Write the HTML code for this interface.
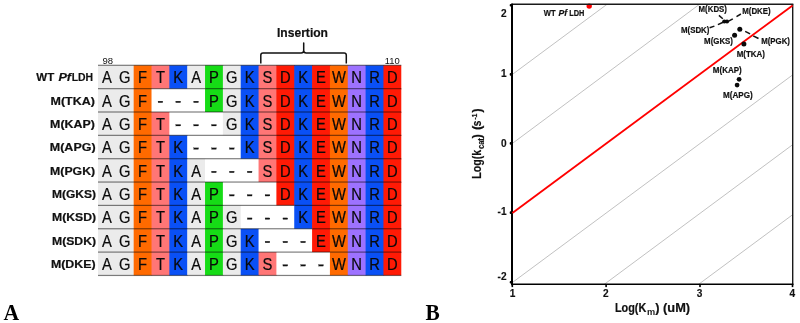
<!DOCTYPE html><html><head><meta charset="utf-8"><title>Figure</title><style>html,body{margin:0;padding:0;background:#fff}svg{display:block;will-change:transform}text{font-family:"Liberation Sans",sans-serif}.b{font-weight:bold}.s{font-family:"Liberation Serif",serif;font-weight:bold}</style></head><body>
<svg width="800" height="323" viewBox="0 0 800 323">
<rect width="800" height="323" fill="#fff"/>
<g>
<rect x="98.00" y="65.30" width="36.38" height="24.05" fill="#ebebeb"/>
<rect x="133.68" y="65.30" width="18.54" height="24.05" fill="#ff6a00"/>
<rect x="151.52" y="65.30" width="18.54" height="24.05" fill="#ff7676"/>
<rect x="169.36" y="65.30" width="18.54" height="24.05" fill="#0a50f5"/>
<rect x="187.20" y="65.30" width="18.54" height="24.05" fill="#ebebeb"/>
<rect x="205.04" y="65.30" width="18.54" height="24.05" fill="#16dc16"/>
<rect x="222.88" y="65.30" width="18.54" height="24.05" fill="#ebebeb"/>
<rect x="240.72" y="65.30" width="18.54" height="24.05" fill="#0a50f5"/>
<rect x="258.56" y="65.30" width="18.54" height="24.05" fill="#ff7676"/>
<rect x="276.40" y="65.30" width="18.54" height="24.05" fill="#ff1a05"/>
<rect x="294.24" y="65.30" width="18.54" height="24.05" fill="#0a50f5"/>
<rect x="312.08" y="65.30" width="18.54" height="24.05" fill="#ff1a05"/>
<rect x="329.92" y="65.30" width="18.54" height="24.05" fill="#ff6a00"/>
<rect x="347.76" y="65.30" width="18.54" height="24.05" fill="#9d72ff"/>
<rect x="365.60" y="65.30" width="18.54" height="24.05" fill="#0a50f5"/>
<rect x="383.44" y="65.30" width="17.84" height="24.05" fill="#ff1a05"/>
<rect x="98.00" y="88.65" width="36.38" height="24.05" fill="#ebebeb"/>
<rect x="133.68" y="88.65" width="18.54" height="24.05" fill="#ff6a00"/>
<rect x="151.52" y="88.65" width="54.22" height="24.05" fill="#fff"/>
<rect x="205.04" y="88.65" width="18.54" height="24.05" fill="#16dc16"/>
<rect x="222.88" y="88.65" width="18.54" height="24.05" fill="#ebebeb"/>
<rect x="240.72" y="88.65" width="18.54" height="24.05" fill="#0a50f5"/>
<rect x="258.56" y="88.65" width="18.54" height="24.05" fill="#ff7676"/>
<rect x="276.40" y="88.65" width="18.54" height="24.05" fill="#ff1a05"/>
<rect x="294.24" y="88.65" width="18.54" height="24.05" fill="#0a50f5"/>
<rect x="312.08" y="88.65" width="18.54" height="24.05" fill="#ff1a05"/>
<rect x="329.92" y="88.65" width="18.54" height="24.05" fill="#ff6a00"/>
<rect x="347.76" y="88.65" width="18.54" height="24.05" fill="#9d72ff"/>
<rect x="365.60" y="88.65" width="18.54" height="24.05" fill="#0a50f5"/>
<rect x="383.44" y="88.65" width="17.84" height="24.05" fill="#ff1a05"/>
<rect x="98.00" y="112.00" width="36.38" height="24.05" fill="#ebebeb"/>
<rect x="133.68" y="112.00" width="18.54" height="24.05" fill="#ff6a00"/>
<rect x="151.52" y="112.00" width="18.54" height="24.05" fill="#ff7676"/>
<rect x="169.36" y="112.00" width="54.22" height="24.05" fill="#fff"/>
<rect x="222.88" y="112.00" width="18.54" height="24.05" fill="#ebebeb"/>
<rect x="240.72" y="112.00" width="18.54" height="24.05" fill="#0a50f5"/>
<rect x="258.56" y="112.00" width="18.54" height="24.05" fill="#ff7676"/>
<rect x="276.40" y="112.00" width="18.54" height="24.05" fill="#ff1a05"/>
<rect x="294.24" y="112.00" width="18.54" height="24.05" fill="#0a50f5"/>
<rect x="312.08" y="112.00" width="18.54" height="24.05" fill="#ff1a05"/>
<rect x="329.92" y="112.00" width="18.54" height="24.05" fill="#ff6a00"/>
<rect x="347.76" y="112.00" width="18.54" height="24.05" fill="#9d72ff"/>
<rect x="365.60" y="112.00" width="18.54" height="24.05" fill="#0a50f5"/>
<rect x="383.44" y="112.00" width="17.84" height="24.05" fill="#ff1a05"/>
<rect x="98.00" y="135.35" width="36.38" height="24.05" fill="#ebebeb"/>
<rect x="133.68" y="135.35" width="18.54" height="24.05" fill="#ff6a00"/>
<rect x="151.52" y="135.35" width="18.54" height="24.05" fill="#ff7676"/>
<rect x="169.36" y="135.35" width="18.54" height="24.05" fill="#0a50f5"/>
<rect x="187.20" y="135.35" width="54.22" height="24.05" fill="#fff"/>
<rect x="240.72" y="135.35" width="18.54" height="24.05" fill="#0a50f5"/>
<rect x="258.56" y="135.35" width="18.54" height="24.05" fill="#ff7676"/>
<rect x="276.40" y="135.35" width="18.54" height="24.05" fill="#ff1a05"/>
<rect x="294.24" y="135.35" width="18.54" height="24.05" fill="#0a50f5"/>
<rect x="312.08" y="135.35" width="18.54" height="24.05" fill="#ff1a05"/>
<rect x="329.92" y="135.35" width="18.54" height="24.05" fill="#ff6a00"/>
<rect x="347.76" y="135.35" width="18.54" height="24.05" fill="#9d72ff"/>
<rect x="365.60" y="135.35" width="18.54" height="24.05" fill="#0a50f5"/>
<rect x="383.44" y="135.35" width="17.84" height="24.05" fill="#ff1a05"/>
<rect x="98.00" y="158.70" width="36.38" height="24.05" fill="#ebebeb"/>
<rect x="133.68" y="158.70" width="18.54" height="24.05" fill="#ff6a00"/>
<rect x="151.52" y="158.70" width="18.54" height="24.05" fill="#ff7676"/>
<rect x="169.36" y="158.70" width="18.54" height="24.05" fill="#0a50f5"/>
<rect x="187.20" y="158.70" width="18.54" height="24.05" fill="#ebebeb"/>
<rect x="205.04" y="158.70" width="54.22" height="24.05" fill="#fff"/>
<rect x="258.56" y="158.70" width="18.54" height="24.05" fill="#ff7676"/>
<rect x="276.40" y="158.70" width="18.54" height="24.05" fill="#ff1a05"/>
<rect x="294.24" y="158.70" width="18.54" height="24.05" fill="#0a50f5"/>
<rect x="312.08" y="158.70" width="18.54" height="24.05" fill="#ff1a05"/>
<rect x="329.92" y="158.70" width="18.54" height="24.05" fill="#ff6a00"/>
<rect x="347.76" y="158.70" width="18.54" height="24.05" fill="#9d72ff"/>
<rect x="365.60" y="158.70" width="18.54" height="24.05" fill="#0a50f5"/>
<rect x="383.44" y="158.70" width="17.84" height="24.05" fill="#ff1a05"/>
<rect x="98.00" y="182.05" width="36.38" height="24.05" fill="#ebebeb"/>
<rect x="133.68" y="182.05" width="18.54" height="24.05" fill="#ff6a00"/>
<rect x="151.52" y="182.05" width="18.54" height="24.05" fill="#ff7676"/>
<rect x="169.36" y="182.05" width="18.54" height="24.05" fill="#0a50f5"/>
<rect x="187.20" y="182.05" width="18.54" height="24.05" fill="#ebebeb"/>
<rect x="205.04" y="182.05" width="18.54" height="24.05" fill="#16dc16"/>
<rect x="222.88" y="182.05" width="54.22" height="24.05" fill="#fff"/>
<rect x="276.40" y="182.05" width="18.54" height="24.05" fill="#ff1a05"/>
<rect x="294.24" y="182.05" width="18.54" height="24.05" fill="#0a50f5"/>
<rect x="312.08" y="182.05" width="18.54" height="24.05" fill="#ff1a05"/>
<rect x="329.92" y="182.05" width="18.54" height="24.05" fill="#ff6a00"/>
<rect x="347.76" y="182.05" width="18.54" height="24.05" fill="#9d72ff"/>
<rect x="365.60" y="182.05" width="18.54" height="24.05" fill="#0a50f5"/>
<rect x="383.44" y="182.05" width="17.84" height="24.05" fill="#ff1a05"/>
<rect x="98.00" y="205.40" width="36.38" height="24.05" fill="#ebebeb"/>
<rect x="133.68" y="205.40" width="18.54" height="24.05" fill="#ff6a00"/>
<rect x="151.52" y="205.40" width="18.54" height="24.05" fill="#ff7676"/>
<rect x="169.36" y="205.40" width="18.54" height="24.05" fill="#0a50f5"/>
<rect x="187.20" y="205.40" width="18.54" height="24.05" fill="#ebebeb"/>
<rect x="205.04" y="205.40" width="18.54" height="24.05" fill="#16dc16"/>
<rect x="222.88" y="205.40" width="18.54" height="24.05" fill="#ebebeb"/>
<rect x="240.72" y="205.40" width="54.22" height="24.05" fill="#fff"/>
<rect x="294.24" y="205.40" width="18.54" height="24.05" fill="#0a50f5"/>
<rect x="312.08" y="205.40" width="18.54" height="24.05" fill="#ff1a05"/>
<rect x="329.92" y="205.40" width="18.54" height="24.05" fill="#ff6a00"/>
<rect x="347.76" y="205.40" width="18.54" height="24.05" fill="#9d72ff"/>
<rect x="365.60" y="205.40" width="18.54" height="24.05" fill="#0a50f5"/>
<rect x="383.44" y="205.40" width="17.84" height="24.05" fill="#ff1a05"/>
<rect x="98.00" y="228.75" width="36.38" height="24.05" fill="#ebebeb"/>
<rect x="133.68" y="228.75" width="18.54" height="24.05" fill="#ff6a00"/>
<rect x="151.52" y="228.75" width="18.54" height="24.05" fill="#ff7676"/>
<rect x="169.36" y="228.75" width="18.54" height="24.05" fill="#0a50f5"/>
<rect x="187.20" y="228.75" width="18.54" height="24.05" fill="#ebebeb"/>
<rect x="205.04" y="228.75" width="18.54" height="24.05" fill="#16dc16"/>
<rect x="222.88" y="228.75" width="18.54" height="24.05" fill="#ebebeb"/>
<rect x="240.72" y="228.75" width="18.54" height="24.05" fill="#0a50f5"/>
<rect x="258.56" y="228.75" width="54.22" height="24.05" fill="#fff"/>
<rect x="312.08" y="228.75" width="18.54" height="24.05" fill="#ff1a05"/>
<rect x="329.92" y="228.75" width="18.54" height="24.05" fill="#ff6a00"/>
<rect x="347.76" y="228.75" width="18.54" height="24.05" fill="#9d72ff"/>
<rect x="365.60" y="228.75" width="18.54" height="24.05" fill="#0a50f5"/>
<rect x="383.44" y="228.75" width="17.84" height="24.05" fill="#ff1a05"/>
<rect x="98.00" y="252.10" width="36.38" height="23.35" fill="#ebebeb"/>
<rect x="133.68" y="252.10" width="18.54" height="23.35" fill="#ff6a00"/>
<rect x="151.52" y="252.10" width="18.54" height="23.35" fill="#ff7676"/>
<rect x="169.36" y="252.10" width="18.54" height="23.35" fill="#0a50f5"/>
<rect x="187.20" y="252.10" width="18.54" height="23.35" fill="#ebebeb"/>
<rect x="205.04" y="252.10" width="18.54" height="23.35" fill="#16dc16"/>
<rect x="222.88" y="252.10" width="18.54" height="23.35" fill="#ebebeb"/>
<rect x="240.72" y="252.10" width="18.54" height="23.35" fill="#0a50f5"/>
<rect x="258.56" y="252.10" width="18.54" height="23.35" fill="#ff7676"/>
<rect x="276.40" y="252.10" width="54.22" height="23.35" fill="#fff"/>
<rect x="329.92" y="252.10" width="18.54" height="23.35" fill="#ff6a00"/>
<rect x="347.76" y="252.10" width="18.54" height="23.35" fill="#9d72ff"/>
<rect x="365.60" y="252.10" width="18.54" height="23.35" fill="#0a50f5"/>
<rect x="383.44" y="252.10" width="17.84" height="23.35" fill="#ff1a05"/>
</g>
<rect x="98.00" y="64.70" width="303.28" height="1.2" fill="#000" fill-opacity="0.5"/>
<rect x="98.00" y="88.05" width="303.28" height="1.2" fill="#000" fill-opacity="0.5"/>
<rect x="98.00" y="111.40" width="303.28" height="1.2" fill="#000" fill-opacity="0.5"/>
<rect x="98.00" y="134.75" width="303.28" height="1.2" fill="#000" fill-opacity="0.5"/>
<rect x="98.00" y="158.10" width="303.28" height="1.2" fill="#000" fill-opacity="0.5"/>
<rect x="98.00" y="181.45" width="303.28" height="1.2" fill="#000" fill-opacity="0.5"/>
<rect x="98.00" y="204.80" width="303.28" height="1.2" fill="#000" fill-opacity="0.5"/>
<rect x="98.00" y="228.15" width="303.28" height="1.2" fill="#000" fill-opacity="0.5"/>
<rect x="98.00" y="251.50" width="303.28" height="1.2" fill="#000" fill-opacity="0.5"/>
<rect x="98.00" y="274.85" width="303.28" height="1.2" fill="#000" fill-opacity="0.5"/>
<g font-size="15.7" text-anchor="middle" fill="#0a0a0a" stroke="#0a0a0a" stroke-width="0.2">
<text transform="translate(106.92 83.30) scale(0.94 1)">A</text>
<text transform="translate(124.76 83.30) scale(0.94 1)">G</text>
<text transform="translate(142.60 83.30) scale(0.94 1)">F</text>
<text transform="translate(160.44 83.30) scale(0.94 1)">T</text>
<text transform="translate(178.28 83.30) scale(0.94 1)">K</text>
<text transform="translate(196.12 83.30) scale(0.94 1)">A</text>
<text transform="translate(213.96 83.30) scale(0.94 1)">P</text>
<text transform="translate(231.80 83.30) scale(0.94 1)">G</text>
<text transform="translate(249.64 83.30) scale(0.94 1)">K</text>
<text transform="translate(267.48 83.30) scale(0.94 1)">S</text>
<text transform="translate(285.32 83.30) scale(0.94 1)">D</text>
<text transform="translate(303.16 83.30) scale(0.94 1)">K</text>
<text transform="translate(321.00 83.30) scale(0.94 1)">E</text>
<text transform="translate(338.84 83.30) scale(0.94 1)">W</text>
<text transform="translate(356.68 83.30) scale(0.94 1)">N</text>
<text transform="translate(374.52 83.30) scale(0.94 1)">R</text>
<text transform="translate(392.36 83.30) scale(0.94 1)">D</text>
<text transform="translate(106.92 106.65) scale(0.94 1)">A</text>
<text transform="translate(124.76 106.65) scale(0.94 1)">G</text>
<text transform="translate(142.60 106.65) scale(0.94 1)">F</text>
<rect x="158.04" y="101.15" width="4.8" height="1.5" fill="#111"/>
<rect x="175.88" y="101.15" width="4.8" height="1.5" fill="#111"/>
<rect x="193.72" y="101.15" width="4.8" height="1.5" fill="#111"/>
<text transform="translate(213.96 106.65) scale(0.94 1)">P</text>
<text transform="translate(231.80 106.65) scale(0.94 1)">G</text>
<text transform="translate(249.64 106.65) scale(0.94 1)">K</text>
<text transform="translate(267.48 106.65) scale(0.94 1)">S</text>
<text transform="translate(285.32 106.65) scale(0.94 1)">D</text>
<text transform="translate(303.16 106.65) scale(0.94 1)">K</text>
<text transform="translate(321.00 106.65) scale(0.94 1)">E</text>
<text transform="translate(338.84 106.65) scale(0.94 1)">W</text>
<text transform="translate(356.68 106.65) scale(0.94 1)">N</text>
<text transform="translate(374.52 106.65) scale(0.94 1)">R</text>
<text transform="translate(392.36 106.65) scale(0.94 1)">D</text>
<text transform="translate(106.92 130.00) scale(0.94 1)">A</text>
<text transform="translate(124.76 130.00) scale(0.94 1)">G</text>
<text transform="translate(142.60 130.00) scale(0.94 1)">F</text>
<text transform="translate(160.44 130.00) scale(0.94 1)">T</text>
<rect x="175.88" y="124.50" width="4.8" height="1.5" fill="#111"/>
<rect x="193.72" y="124.50" width="4.8" height="1.5" fill="#111"/>
<rect x="211.56" y="124.50" width="4.8" height="1.5" fill="#111"/>
<text transform="translate(231.80 130.00) scale(0.94 1)">G</text>
<text transform="translate(249.64 130.00) scale(0.94 1)">K</text>
<text transform="translate(267.48 130.00) scale(0.94 1)">S</text>
<text transform="translate(285.32 130.00) scale(0.94 1)">D</text>
<text transform="translate(303.16 130.00) scale(0.94 1)">K</text>
<text transform="translate(321.00 130.00) scale(0.94 1)">E</text>
<text transform="translate(338.84 130.00) scale(0.94 1)">W</text>
<text transform="translate(356.68 130.00) scale(0.94 1)">N</text>
<text transform="translate(374.52 130.00) scale(0.94 1)">R</text>
<text transform="translate(392.36 130.00) scale(0.94 1)">D</text>
<text transform="translate(106.92 153.35) scale(0.94 1)">A</text>
<text transform="translate(124.76 153.35) scale(0.94 1)">G</text>
<text transform="translate(142.60 153.35) scale(0.94 1)">F</text>
<text transform="translate(160.44 153.35) scale(0.94 1)">T</text>
<text transform="translate(178.28 153.35) scale(0.94 1)">K</text>
<rect x="193.72" y="147.85" width="4.8" height="1.5" fill="#111"/>
<rect x="211.56" y="147.85" width="4.8" height="1.5" fill="#111"/>
<rect x="229.40" y="147.85" width="4.8" height="1.5" fill="#111"/>
<text transform="translate(249.64 153.35) scale(0.94 1)">K</text>
<text transform="translate(267.48 153.35) scale(0.94 1)">S</text>
<text transform="translate(285.32 153.35) scale(0.94 1)">D</text>
<text transform="translate(303.16 153.35) scale(0.94 1)">K</text>
<text transform="translate(321.00 153.35) scale(0.94 1)">E</text>
<text transform="translate(338.84 153.35) scale(0.94 1)">W</text>
<text transform="translate(356.68 153.35) scale(0.94 1)">N</text>
<text transform="translate(374.52 153.35) scale(0.94 1)">R</text>
<text transform="translate(392.36 153.35) scale(0.94 1)">D</text>
<text transform="translate(106.92 176.70) scale(0.94 1)">A</text>
<text transform="translate(124.76 176.70) scale(0.94 1)">G</text>
<text transform="translate(142.60 176.70) scale(0.94 1)">F</text>
<text transform="translate(160.44 176.70) scale(0.94 1)">T</text>
<text transform="translate(178.28 176.70) scale(0.94 1)">K</text>
<text transform="translate(196.12 176.70) scale(0.94 1)">A</text>
<rect x="211.56" y="171.20" width="4.8" height="1.5" fill="#111"/>
<rect x="229.40" y="171.20" width="4.8" height="1.5" fill="#111"/>
<rect x="247.24" y="171.20" width="4.8" height="1.5" fill="#111"/>
<text transform="translate(267.48 176.70) scale(0.94 1)">S</text>
<text transform="translate(285.32 176.70) scale(0.94 1)">D</text>
<text transform="translate(303.16 176.70) scale(0.94 1)">K</text>
<text transform="translate(321.00 176.70) scale(0.94 1)">E</text>
<text transform="translate(338.84 176.70) scale(0.94 1)">W</text>
<text transform="translate(356.68 176.70) scale(0.94 1)">N</text>
<text transform="translate(374.52 176.70) scale(0.94 1)">R</text>
<text transform="translate(392.36 176.70) scale(0.94 1)">D</text>
<text transform="translate(106.92 200.05) scale(0.94 1)">A</text>
<text transform="translate(124.76 200.05) scale(0.94 1)">G</text>
<text transform="translate(142.60 200.05) scale(0.94 1)">F</text>
<text transform="translate(160.44 200.05) scale(0.94 1)">T</text>
<text transform="translate(178.28 200.05) scale(0.94 1)">K</text>
<text transform="translate(196.12 200.05) scale(0.94 1)">A</text>
<text transform="translate(213.96 200.05) scale(0.94 1)">P</text>
<rect x="229.40" y="194.55" width="4.8" height="1.5" fill="#111"/>
<rect x="247.24" y="194.55" width="4.8" height="1.5" fill="#111"/>
<rect x="265.08" y="194.55" width="4.8" height="1.5" fill="#111"/>
<text transform="translate(285.32 200.05) scale(0.94 1)">D</text>
<text transform="translate(303.16 200.05) scale(0.94 1)">K</text>
<text transform="translate(321.00 200.05) scale(0.94 1)">E</text>
<text transform="translate(338.84 200.05) scale(0.94 1)">W</text>
<text transform="translate(356.68 200.05) scale(0.94 1)">N</text>
<text transform="translate(374.52 200.05) scale(0.94 1)">R</text>
<text transform="translate(392.36 200.05) scale(0.94 1)">D</text>
<text transform="translate(106.92 223.40) scale(0.94 1)">A</text>
<text transform="translate(124.76 223.40) scale(0.94 1)">G</text>
<text transform="translate(142.60 223.40) scale(0.94 1)">F</text>
<text transform="translate(160.44 223.40) scale(0.94 1)">T</text>
<text transform="translate(178.28 223.40) scale(0.94 1)">K</text>
<text transform="translate(196.12 223.40) scale(0.94 1)">A</text>
<text transform="translate(213.96 223.40) scale(0.94 1)">P</text>
<text transform="translate(231.80 223.40) scale(0.94 1)">G</text>
<rect x="247.24" y="217.90" width="4.8" height="1.5" fill="#111"/>
<rect x="265.08" y="217.90" width="4.8" height="1.5" fill="#111"/>
<rect x="282.92" y="217.90" width="4.8" height="1.5" fill="#111"/>
<text transform="translate(303.16 223.40) scale(0.94 1)">K</text>
<text transform="translate(321.00 223.40) scale(0.94 1)">E</text>
<text transform="translate(338.84 223.40) scale(0.94 1)">W</text>
<text transform="translate(356.68 223.40) scale(0.94 1)">N</text>
<text transform="translate(374.52 223.40) scale(0.94 1)">R</text>
<text transform="translate(392.36 223.40) scale(0.94 1)">D</text>
<text transform="translate(106.92 246.75) scale(0.94 1)">A</text>
<text transform="translate(124.76 246.75) scale(0.94 1)">G</text>
<text transform="translate(142.60 246.75) scale(0.94 1)">F</text>
<text transform="translate(160.44 246.75) scale(0.94 1)">T</text>
<text transform="translate(178.28 246.75) scale(0.94 1)">K</text>
<text transform="translate(196.12 246.75) scale(0.94 1)">A</text>
<text transform="translate(213.96 246.75) scale(0.94 1)">P</text>
<text transform="translate(231.80 246.75) scale(0.94 1)">G</text>
<text transform="translate(249.64 246.75) scale(0.94 1)">K</text>
<rect x="265.08" y="241.25" width="4.8" height="1.5" fill="#111"/>
<rect x="282.92" y="241.25" width="4.8" height="1.5" fill="#111"/>
<rect x="300.76" y="241.25" width="4.8" height="1.5" fill="#111"/>
<text transform="translate(321.00 246.75) scale(0.94 1)">E</text>
<text transform="translate(338.84 246.75) scale(0.94 1)">W</text>
<text transform="translate(356.68 246.75) scale(0.94 1)">N</text>
<text transform="translate(374.52 246.75) scale(0.94 1)">R</text>
<text transform="translate(392.36 246.75) scale(0.94 1)">D</text>
<text transform="translate(106.92 270.10) scale(0.94 1)">A</text>
<text transform="translate(124.76 270.10) scale(0.94 1)">G</text>
<text transform="translate(142.60 270.10) scale(0.94 1)">F</text>
<text transform="translate(160.44 270.10) scale(0.94 1)">T</text>
<text transform="translate(178.28 270.10) scale(0.94 1)">K</text>
<text transform="translate(196.12 270.10) scale(0.94 1)">A</text>
<text transform="translate(213.96 270.10) scale(0.94 1)">P</text>
<text transform="translate(231.80 270.10) scale(0.94 1)">G</text>
<text transform="translate(249.64 270.10) scale(0.94 1)">K</text>
<text transform="translate(267.48 270.10) scale(0.94 1)">S</text>
<rect x="282.92" y="264.60" width="4.8" height="1.5" fill="#111"/>
<rect x="300.76" y="264.60" width="4.8" height="1.5" fill="#111"/>
<rect x="318.60" y="264.60" width="4.8" height="1.5" fill="#111"/>
<text transform="translate(338.84 270.10) scale(0.94 1)">W</text>
<text transform="translate(356.68 270.10) scale(0.94 1)">N</text>
<text transform="translate(374.52 270.10) scale(0.94 1)">R</text>
<text transform="translate(392.36 270.10) scale(0.94 1)">D</text>
</g>
<g class="b" font-size="11.3" fill="#111" stroke="#111" stroke-width="0.2">
<text x="36.3" y="81.30" textLength="17.9" lengthAdjust="spacingAndGlyphs">WT</text>
<text x="58.4" y="81.30" textLength="12.6" lengthAdjust="spacingAndGlyphs" font-style="italic">Pf</text>
<text x="71.7" y="81.30" textLength="21.4" lengthAdjust="spacingAndGlyphs">LDH</text>
<text x="50.50" y="104.65" textLength="44.30" lengthAdjust="spacingAndGlyphs">M(TKA)</text>
<text x="50.10" y="128.00" textLength="44.70" lengthAdjust="spacingAndGlyphs">M(KAP)</text>
<text x="49.80" y="151.35" textLength="45.80" lengthAdjust="spacingAndGlyphs">M(APG)</text>
<text x="50.10" y="174.70" textLength="45.00" lengthAdjust="spacingAndGlyphs">M(PGK)</text>
<text x="52.00" y="198.05" textLength="44.00" lengthAdjust="spacingAndGlyphs">M(GKS)</text>
<text x="52.00" y="221.40" textLength="44.00" lengthAdjust="spacingAndGlyphs">M(KSD)</text>
<text x="52.00" y="244.75" textLength="44.00" lengthAdjust="spacingAndGlyphs">M(SDK)</text>
<text x="50.90" y="268.10" textLength="44.70" lengthAdjust="spacingAndGlyphs">M(DKE)</text>
</g>
<text x="102.5" y="64.4" font-size="8.9" textLength="10.6" lengthAdjust="spacingAndGlyphs" fill="#111">98</text>
<text x="384.7" y="64.4" font-size="8.9" textLength="15" lengthAdjust="spacingAndGlyphs" fill="#111">110</text>
<text class="b" x="277" y="36.8" font-size="12.4" stroke="#111" stroke-width="0.2" textLength="51" lengthAdjust="spacingAndGlyphs" fill="#111">Insertion</text>
<path d="M260.8 63.4 V55.2 Q260.8 53 263 53 H301.2 Q303.7 53 303.7 50.5 V43 V50.5 Q303.7 53 306.2 53 H344.1 Q346.3 53 346.3 55.2 V63.4" fill="none" stroke="#111" stroke-width="1.5" stroke-linejoin="round"/>
<text class="s" transform="translate(3.5 319.8) scale(0.965 1)" font-size="22.5" fill="#000">A</text>
<text class="s" transform="translate(425.5 319.8) scale(0.95 1)" font-size="22.5" fill="#000">B</text>
<clipPath id="cp"><rect x="512.3" y="4.3" width="280.4000000000001" height="280.0"/></clipPath>
<g clip-path="url(#cp)" stroke="#bababa" stroke-width="0.9" fill="none">
<line x1="112.40" y1="370.80" x2="912.40" y2="-222.00"/>
<line x1="112.40" y1="440.76" x2="912.40" y2="-153.96"/>
<line x1="112.40" y1="578.82" x2="912.40" y2="-13.82"/>
<line x1="392.10" y1="441.58" x2="1192.10" y2="-151.38"/>
<line x1="392.10" y1="511.30" x2="1192.10" y2="-81.10"/>
</g>
<circle cx="589.2" cy="6.1" r="2.7" fill="#ff0000"/>
<line x1="512.3" y1="4.3" x2="793.35" y2="4.3" stroke="#1a1a1a" stroke-width="1.4"/>
<line x1="792.7" y1="4.3" x2="792.7" y2="285.2" stroke="#1a1a1a" stroke-width="1.4"/>
<line x1="511.99999999999994" y1="3.5999999999999996" x2="511.99999999999994" y2="285.2" stroke="#000" stroke-width="2"/>
<line x1="510.99999999999994" y1="284.3" x2="793.4000000000001" y2="284.3" stroke="#000" stroke-width="1.6"/>
<rect x="509.69999999999993" y="4.0" width="2.6" height="2.6" rx="1" fill="#000"/>
<rect x="509.69999999999993" y="73.10000000000001" width="2.6" height="2.6" rx="1" fill="#000"/>
<rect x="509.69999999999993" y="142.1" width="2.6" height="2.6" rx="1" fill="#000"/>
<rect x="509.69999999999993" y="211.29999999999998" width="2.6" height="2.6" rx="1" fill="#000"/>
<rect x="509.69999999999993" y="280.9" width="2.6" height="2.6" rx="1" fill="#000"/>
<rect x="511.49999999999994" y="284.3" width="1.6" height="2.8" fill="#000"/>
<rect x="605.3000000000001" y="284.3" width="1.6" height="2.8" fill="#000"/>
<rect x="699.2" y="284.3" width="1.6" height="2.8" fill="#000"/>
<rect x="791.7" y="284.3" width="1.6" height="2.8" fill="#000"/>
<g class="b" font-size="10.1" fill="#111" stroke="#111" stroke-width="0.15" text-anchor="end">
<text x="506.6" y="17.0">2</text>
<text x="506.6" y="76.9">1</text>
<text x="506.6" y="146.8">0</text>
<text x="506.6" y="215.4">-1</text>
<text x="506.6" y="280.0">-2</text>
</g>
<g class="b" font-size="10.1" fill="#111" stroke="#111" stroke-width="0.15" text-anchor="middle">
<text x="512.5" y="296.7">1</text>
<text x="605.8" y="296.7">2</text>
<text x="699.6" y="296.7">3</text>
<text x="792.4" y="296.7">4</text>
</g>
<g class="b" fill="#111" stroke="#111" stroke-width="0.2" font-size="12.1">
<text x="615" y="312.3" textLength="31.3" lengthAdjust="spacingAndGlyphs">Log(K</text>
<text x="646.9" y="315" font-size="8.6" textLength="8.2" lengthAdjust="spacingAndGlyphs" fill="#222" stroke="none">m</text>
<text x="655.3" y="312.3" textLength="34.8" lengthAdjust="spacingAndGlyphs">) (uM)</text>
</g>
<g class="b" fill="#111" stroke="#111" stroke-width="0.2" font-size="12" transform="translate(480.8 178.4) rotate(-90)">
<text x="-0.3" y="0" textLength="28.9" lengthAdjust="spacingAndGlyphs">Log(k</text>
<text x="29.3" y="3.2" font-size="8.4" textLength="11" lengthAdjust="spacingAndGlyphs">cat</text>
<text x="40.0" y="-0.2" font-size="13.2">)</text>
<text x="48.5" y="-0.2" font-size="13.2">(</text>
<text x="52.2" y="0" textLength="5.6" lengthAdjust="spacingAndGlyphs">s</text>
<text x="58.6" y="-4.2" font-size="7.9" textLength="6.3" lengthAdjust="spacingAndGlyphs">-1</text>
<text x="65.7" y="-0.2" font-size="13.2">)</text>
</g>
<g class="b" font-size="9" fill="#111" stroke="#111" stroke-width="0.2" transform="translate(0 -0.3)">
<text x="698.6" y="12.6" textLength="28.3" lengthAdjust="spacingAndGlyphs">M(KDS)</text>
<text x="742.2" y="14.5" textLength="28.5" lengthAdjust="spacingAndGlyphs">M(DKE)</text>
<text x="681" y="33.4" textLength="28.4" lengthAdjust="spacingAndGlyphs">M(SDK)</text>
<text x="704.1" y="44.6" textLength="28.9" lengthAdjust="spacingAndGlyphs">M(GKS)</text>
<text x="761.2" y="44.6" textLength="28.8" lengthAdjust="spacingAndGlyphs">M(PGK)</text>
<text x="736.7" y="57.2" textLength="28.3" lengthAdjust="spacingAndGlyphs">M(TKA)</text>
<text x="712.8" y="73.7" textLength="28.9" lengthAdjust="spacingAndGlyphs">M(KAP)</text>
<text x="723" y="98.7" textLength="29.8" lengthAdjust="spacingAndGlyphs">M(APG)</text>
<text x="543.8" y="16" textLength="11.9" lengthAdjust="spacingAndGlyphs">WT</text>
<text x="558.6" y="16" textLength="8.6" lengthAdjust="spacingAndGlyphs" font-style="italic">Pf</text>
<text x="569.2" y="16" textLength="15.2" lengthAdjust="spacingAndGlyphs">LDH</text>
</g>
<g stroke="#111" stroke-width="1.5" fill="none">
<line x1="718.9" y1="15.4" x2="722.8" y2="18.7"/>
<line x1="740.9" y1="14.0" x2="736.5" y2="16.6"/>
<line x1="732.8" y1="18.8" x2="728.6" y2="21.2"/>
<line x1="709.6" y1="27.8" x2="714.4" y2="26.1"/>
<line x1="717.9" y1="24.6" x2="723.1" y2="22.2"/>
<line x1="745.2" y1="31.3" x2="750.1" y2="33.8"/>
<line x1="753.2" y1="35.8" x2="758.5" y2="38.5"/>
</g>
<line x1="512.4" y1="212.9" x2="792.6" y2="5.4" stroke="#ff0000" stroke-width="1.9"/>
<circle cx="724.3" cy="21.5" r="2.1" fill="#0a0a0a"/>
<circle cx="727" cy="21.5" r="2.1" fill="#0a0a0a"/>
<circle cx="739.8" cy="29.2" r="2.5" fill="#0a0a0a"/>
<circle cx="734.6" cy="35.3" r="2.5" fill="#0a0a0a"/>
<circle cx="743.9" cy="44.1" r="2.5" fill="#0a0a0a"/>
<circle cx="739.1" cy="79.3" r="2.4" fill="#0a0a0a"/>
<circle cx="737.1" cy="85.1" r="2.4" fill="#0a0a0a"/>
</svg></body></html>
